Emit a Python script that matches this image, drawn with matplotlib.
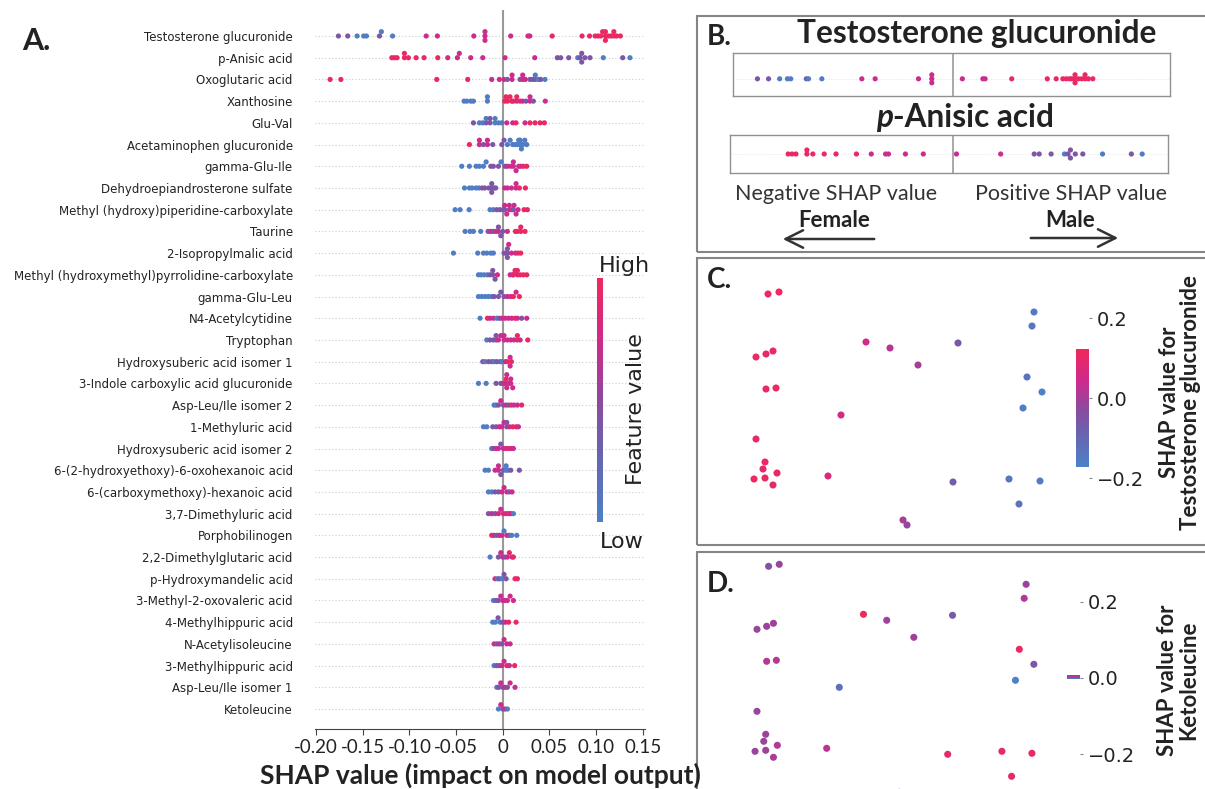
import matplotlib
matplotlib.use('Agg')
import matplotlib.pyplot as plt
import numpy as np
from matplotlib.colors import LinearSegmentedColormap
from matplotlib.patches import Rectangle, FancyArrowPatch

# ---------------- data ----------------
metabolites = [
    'Testosterone glucuronide', 'p-Anisic acid', 'Oxoglutaric acid', 'Xanthosine', 'Glu-Val',
    'Acetaminophen glucuronide', 'gamma-Glu-Ile', 'Dehydroepiandrosterone sulfate',
    'Methyl (hydroxy)piperidine-carboxylate', 'Taurine', '2-Isopropylmalic acid',
    'Methyl (hydroxymethyl)pyrrolidine-carboxylate', 'gamma-Glu-Leu', 'N4-Acetylcytidine',
    'Tryptophan', 'Hydroxysuberic acid isomer 1', '3-Indole carboxylic acid glucuronide',
    'Asp-Leu/Ile isomer 2', '1-Methyluric acid', 'Hydroxysuberic acid isomer 2',
    '6-(2-hydroxyethoxy)-6-oxohexanoic acid', '6-(carboxymethoxy)-hexanoic acid',
    '3,7-Dimethyluric acid', 'Porphobilinogen', '2,2-Dimethylglutaric acid',
    'p-Hydroxymandelic acid', '3-Methyl-2-oxovaleric acid', '4-Methylhippuric acid',
    'N-Acetylisoleucine', '3-Methylhippuric acid', 'Asp-Leu/Ile isomer 1', 'Ketoleucine',
]

# SHAP values per metabolite (one list per row, top to bottom)
shap_rows = [
    [-0.176, -0.166, -0.156, -0.149, -0.146, -0.132, -0.130, -0.118, -0.082, -0.070, -0.031, -0.019, -0.019,
     -0.019, 0.0085, 0.027, 0.029, 0.053, 0.085, 0.093, 0.099, 0.102, 0.105, 0.107, 0.110, 0.110, 0.110,
     0.113, 0.116, 0.119, 0.119, 0.122, 0.126],
    [-0.1188, -0.116, -0.1132, -0.1053, -0.1053, -0.101, -0.0928, -0.0843, -0.0696, -0.0589, -0.0486,
     -0.0465, -0.0343, -0.0214, 0.0025, 0.0343, 0.0585, 0.0621, 0.0707, 0.0803, 0.0828, 0.0846, 0.0846,
     0.0881, 0.0935, 0.1077, 0.1285, 0.1363],
    [-0.1849, -0.1734, -0.0707, -0.0375, -0.0118, -0.0036, 0.0014, 0.005, 0.010, 0.010, 0.0185, 0.0214,
     0.0214, 0.0242, 0.0292, 0.0321, 0.0349, 0.0349, 0.0381, 0.0407, 0.0453],
    [-0.0414, -0.0385, -0.0343, -0.0314, -0.0164, -0.0164, 0.0021, 0.0035, 0.005, 0.0078, 0.0095, 0.0114,
     0.015, 0.015, 0.0185, 0.0214, 0.0249, 0.0292, 0.0292, 0.0328, 0.0456],
    [-0.0314, -0.025, -0.0214, -0.0178, -0.0178, -0.0136, -0.0136, -0.0082, -0.0082, -0.0046, -0.0011,
     0.0043, 0.0107, 0.0142, 0.0239, 0.0292, 0.0346, 0.04, 0.0446],
    [-0.0357, -0.025, -0.025, -0.0207, -0.0164, -0.0164, -0.0107, -0.001, 0.0014, 0.005, 0.0079, 0.0107,
     0.0136, 0.0157, 0.0171, 0.0186, 0.0186, 0.02, 0.0214, 0.0236, 0.0257],
    [-0.0439, -0.0357, -0.0286, -0.025, -0.0207, -0.0178, -0.0128, -0.01, -0.0046, -0.0018, 0.0025, 0.005,
     0.0086, 0.0114, 0.0114, 0.0143, 0.0171, 0.0193, 0.0221, 0.0257],
    [-0.041, -0.0357, -0.0328, -0.0286, -0.0257, -0.0221, -0.0193, -0.015, -0.0118, -0.0118, -0.0118,
     -0.0093, -0.0075, 0.0021, 0.005, 0.0093, 0.0143, 0.0143, 0.0178, 0.0243],
    [-0.051, -0.0457, -0.036, -0.0136, -0.01, -0.0064, -0.0029, 0.0007, 0.0021, 0.0021, 0.0043, 0.0071,
     0.0071, 0.01, 0.0114, 0.0121, 0.0143, 0.0164, 0.0228, 0.0264],
    [-0.0403, -0.035, -0.0314, -0.0236, -0.0157, -0.0128, -0.01, -0.0071, -0.0046, -0.0046, -0.0021, 0.0,
     0.005, 0.0136, 0.0157, 0.0193, 0.0193, 0.0239],
    [-0.0528, -0.0268, -0.0207, -0.0171, -0.0128, -0.01, 0.0014, 0.0036, 0.005, 0.005, 0.005, 0.0064,
     0.0093, 0.0136, 0.0164, 0.0193],
    [-0.026, -0.0232, -0.02, -0.0164, -0.0136, -0.0107, -0.0107, -0.0082, -0.0057, 0.0079, 0.0107, 0.0114,
     0.0132, 0.0157, 0.0157, 0.0186, 0.0221, 0.0257],
    [-0.026, -0.0225, -0.0189, -0.0153, -0.0118, -0.0093, -0.0046, -0.0021, 0.0014, 0.005, 0.0086, 0.0114,
     0.0143, 0.0178],
    [-0.0243, -0.0164, -0.0136, -0.01, -0.0064, -0.0036, -0.001, 0.0025, 0.0061, 0.0096, 0.0132, 0.0157,
     0.0203, 0.0257],
    [-0.0171, -0.0136, -0.01, -0.0071, -0.0071, -0.0046, -0.0021, 0.0014, 0.0014, 0.005, 0.0086, 0.0121,
     0.0157, 0.0157, 0.0186, 0.0268],
    [-0.0214, -0.0189, -0.0153, -0.0118, -0.0093, -0.0064, -0.0029, -0.001, 0.0029, 0.005, 0.0079, 0.0079,
     0.0093],
    [-0.026, -0.0178, -0.0071, -0.0021, 0.0007, 0.0025, 0.0036, 0.0043, 0.0043, 0.0064, 0.0086, 0.0086,
     0.0107],
    [-0.0093, -0.0071, -0.0046, -0.0021, 0.0007, 0.0036, 0.0064, 0.0093, 0.0121, 0.0157, 0.0203],
    [-0.0207, -0.0171, -0.0107, -0.0071, -0.0036, -0.001, 0.0014, 0.0043, 0.0043, 0.0071, 0.0107, 0.0143,
     0.0168],
    [-0.0118, -0.01, -0.0071, -0.0046, -0.0021, 0.0007, 0.0036, 0.0064, 0.0093, 0.0114],
    [-0.0189, -0.0153, -0.0082, -0.0046, -0.0046, -0.0021, 0.0007, 0.0036, 0.0036, 0.0057, 0.0086, 0.0178],
    [-0.0153, -0.0118, -0.0082, -0.0046, -0.001, 0.0014, 0.0043, 0.0071, 0.01],
    [-0.0153, -0.0118, -0.0082, -0.0046, -0.0021, 0.0007, 0.0036, 0.0064, 0.0086, 0.0114],
    [-0.0118, -0.0093, -0.0064, -0.0036, -0.001, 0.0014, 0.0043, 0.0071, 0.0096, 0.015],
    [-0.0136, -0.0046, -0.0021, 0.0, 0.0025, 0.005, 0.0071, 0.01, 0.0114],
    [-0.0082, -0.0057, -0.0036, -0.001, 0.0014, 0.0036, 0.0132, 0.0157],
    [-0.01, -0.0071, -0.0046, -0.0021, 0.0, 0.0025, 0.005, 0.0079, 0.0114],
    [-0.0107, -0.0079, -0.005, -0.0029, 0.0, 0.0029, 0.0064, 0.0143],
    [-0.0093, -0.0064, -0.0036, -0.001, 0.0014, 0.0043, 0.0079],
    [-0.0093, -0.0064, -0.0036, -0.001, 0.0014, 0.0043, 0.0071, 0.0128],
    [-0.0064, -0.0043, -0.0021, 0.0, 0.0025, 0.005, 0.0079, 0.0132],
    [-0.0046, -0.0021, 0.0, 0.0025, 0.005],
]

# normalised feature values (0 = low, 1 = high), same order as shap_rows
feat_rows = [
    [.4, .4, .05, .05, .05, .4, .05, .05, .72, .72, .72, .72, .72, .72, .72, .72, .72, .95, .95, .95,
     .95, .95, .95, .95, .95, .95, .95, .95, .95, .95, .95, .95, .95],
    [.95, .95, .95, .95, .95, .95, .95, .95, .95, .72, .72, .72, .72, .72, .72, .72, .4, .4, .4, .05,
     .4, .4, .4, .4, .4, .05, .4, .05],
    [.95, .95, .95, .95, .72, .72, .72, .4, .72, .72, .4, .72, .72, .72, .4, .4, .4, .05, .05, .4, .05],
    [.05, .05, .05, .05, .05, .05, .95, .95, .95, .95, .95, .95, .72, .95, .95, .72, .4, .72, .72, .4, .72],
    [.4, .05, .05, .4, .05, .4, .4, .05, .05, .05, .05, .72, .72, .95, .72, .95, .95, .95, .95],
    [.95, .72, .72, .4, .72, .72, .4, .4, .4, .05, .05, .05, .05, .05, .05, .05, .05, .05, .05, .05, .05],
    [.05, .05, .05, .05, .05, .05, .4, .4, .4, .05, .4, .72, .72, .72, .72, .72, .72, .72, .95, .95],
    [.05, .05, .05, .05, .05, .4, .4, .4, .4, .4, .4, .4, .4, .72, .72, .72, .72, .72, .95, .95],
    [.05, .05, .05, .05, .05, .4, .4, .4, .4, .72, .72, .72, .72, .72, .4, .72, .72, .72, .95, .95],
    [.05, .05, .05, .05, .4, .72, .4, .72, .72, .4, .4, .4, .72, .95, .95, .95, .95, .95],
    [.05, .05, .05, .05, .05, .05, .4, .4, .4, .4, .4, .72, .72, .72, .95, .95],
    [.05, .05, .05, .05, .4, .4, .4, .4, .72, .72, .72, .95, .95, .72, .95, .95, .95, .95],
    [.05, .05, .05, .05, .05, .4, .4, .4, .4, .72, .72, .95, .72, .95],
    [.05, .95, .72, .72, .05, .4, .72, .72, .72, .72, .95, .72, .4, .72],
    [.05, .4, .4, .4, .4, .72, .72, .72, .72, .72, .72, .72, .95, .95, .72, .95],
    [.4, .05, .4, .4, .05, .4, .4, .05, .72, .95, .72, .72, .95],
    [.05, .05, .4, .4, .72, .72, .95, .72, .72, .72, .72, .72, .72],
    [.05, .05, .4, .72, .4, .72, .4, .95, .72, .72, .95],
    [.05, .05, .4, .4, .72, .72, .72, .4, .4, .72, .95, .95, .72],
    [.05, .4, .72, .72, .4, .72, .72, .95, .72, .72],
    [.05, .05, .72, .72, .72, .4, .4, .05, .05, .05, .4, .4],
    [.05, .05, .4, .4, .72, .72, .72, .4, .72],
    [.4, .72, .4, .72, .72, .95, .72, .95, .72, .05],
    [.95, .72, .4, .72, .72, .05, .72, .4, .05, .05],
    [.05, .4, .72, .72, .4, .72, .95, .72, .95],
    [.72, .05, .4, .05, .4, .4, .95, .95],
    [.05, .4, .4, .72, .72, .72, .72, .72, .72],
    [.05, .05, .4, .05, .4, .72, .95, .95],
    [.72, .4, .72, .4, .72, .72, .72],
    [.05, .4, .4, .72, .72, .95, .72, .95],
    [.05, .4, .72, .4, .72, .4, .72, .72],
    [.05, .72, .4, .72, .05],
]

# sample embedding (panels C and D) and per-sample SHAP values used for colour
emb_x = [1.8, 2.9, 28.4, 28.2, 11.6, 14.0, 20.8, 16.8, 0.6, 1.6, 2.3, 1.6, 2.6, 27.7, 29.2, 27.3,
         9.1, 0.6, 1.5, 1.3, 2.7, 0.4, 1.5, 2.3, 7.8, 20.3, 25.9, 29.0, 26.9, 15.3, 15.7]
emb_y = [23.6, 23.8, 21.8, 20.4, 18.8, 18.2, 18.7, 16.5, 17.3, 17.6, 17.9, 14.1, 14.2, 15.3, 13.8, 12.2,
         11.5, 9.1, 6.8, 6.1, 5.7, 5.1, 5.2, 4.5, 5.4, 4.8, 5.1, 4.9, 2.6, 1.0, 0.5]
shap_tg = [0.11, 0.1225, -0.15, -0.14, 0.05, 0.02, -0.06, 0.0, 0.11, 0.10, 0.11, 0.11, 0.11, -0.13,
           -0.1725, -0.16, 0.06, 0.10, 0.11, 0.105, 0.115, 0.12, 0.11, 0.10, 0.07, -0.07, -0.14, -0.15,
           -0.13, 0.0, -0.02]
shap_keto = [0.0, 0.0008, 0.0008, 0.0015, 0.0045, 0.0008, -0.0005, 0.001, 0.0008, 0.0008, 0.001, 0.0015,
             0.0015, 0.0042, -0.0003, -0.0035, -0.0022, 0.0008, 0.001, 0.0008, 0.0015, 0.0008, 0.001,
             0.0012, 0.0018, 0.004, 0.0038, 0.0042, 0.004, -0.0035, -0.0033]

xtick_vals = [-0.20, -0.15, -0.10, -0.05, 0, 0.05, 0.10, 0.15]
xtick_labels = ['-0.20', '-0.15', '-0.10', '-0.05', '0', '0.05', '0.10', '0.15']

# ---------------- helpers ----------------
W, H = 1205, 789
fig = plt.figure(figsize=(W / 100, H / 100), dpi=100)
fig.patch.set_facecolor('white')

def box(x0, y0, x1, y1):
    return [x0 / W, 1 - y1 / H, (x1 - x0) / W, (y1 - y0) / H]

def fx(px):
    return px / W

def fy(py):
    return 1 - py / H

cmap = LinearSegmentedColormap.from_list('shap', [(0, '#4b82c8'), (0.3, '#6c62ae'), (0.5, '#8e4a9e'),
                                                  (0.72, '#cc2c8e'), (1, '#f0285c')])

def swarm(vals, binw):
    # shap-style stacking of points that fall in the same bin
    vals = np.asarray(vals)
    bins = np.round(vals / binw)
    order = np.argsort(bins, kind='stable')
    offs = np.zeros(len(vals))
    layer, last = 0, None
    for i in order:
        if bins[i] != last:
            layer = 0
        offs[i] = np.ceil(layer / 2) * ((layer % 2) * 2 - 1)
        layer += 1
        last = bins[i]
    return offs

LATO = 'Lato'
DARK = '#222222'

# ---------------- panel A ----------------
axA = fig.add_axes(box(315, 10, 645, 729))
n = len(metabolites)
for i, (sv, fv) in enumerate(zip(shap_rows, feat_rows)):
    y = n - 1 - i
    axA.axhline(y, color='#cccccc', lw=0.8, dashes=(1, 2), zorder=0)
    offs = swarm(sv, 0.0032)
    axA.scatter(sv, y + 0.2 * offs, c=fv, cmap=cmap, vmin=0, vmax=1, s=14, lw=0, zorder=3)
axA.axvline(0, color='#999999', lw=1.5, zorder=1)
axA.set_xlim(-0.2011, 0.1524)
axA.set_ylim(-0.92, n - 1 + 26 / 21.7)
axA.set_yticks(range(n))
axA.set_yticklabels(metabolites[::-1], fontsize=8.5, color=DARK)
axA.tick_params(axis='y', length=0, pad=16)
for s in ['top', 'right', 'left']:
    axA.spines[s].set_visible(False)
axA.spines['bottom'].set_color('#444444')
axA.set_xticks(xtick_vals)
axA.set_xticklabels(xtick_labels, fontsize=13.5, family=LATO, color=DARK)
axA.tick_params(axis='x', length=4, color='#444444', pad=3)

fig.text(fx(480), fy(775), 'SHAP value (impact on model output)', ha='center', va='center',
         fontsize=19, fontweight='bold', family=LATO, color=DARK)
fig.text(fx(22), fy(50), 'A.', fontsize=22, fontweight='bold', family=LATO, va='baseline', color=DARK)

# feature value colour bar
caxA = fig.add_axes(box(597, 278, 603, 522))
caxA.imshow(np.linspace(0, 1, 256)[:, None], cmap=cmap, aspect='auto', origin='lower')
caxA.axis('off')
fig.text(fx(624), fy(272), 'High', ha='center', va='baseline', fontsize=16, color=DARK)
fig.text(fx(622), fy(548), 'Low', ha='center', va='baseline', fontsize=16, color=DARK)
fig.text(fx(636), fy(409), 'Feature value', ha='center', va='center', rotation=90, fontsize=16, color=DARK)

# ---------------- frames for B, C, D ----------------
for (x0, y0, x1, y1) in [(697, 16, 1215, 252), (697, 258, 1215, 545), (697, 552, 1215, 800)]:
    fig.add_artist(Rectangle((fx(x0), fy(y1)), (x1 - x0) / W, (y1 - y0) / H, transform=fig.transFigure,
                             fill=False, ec='#858585', lw=1.5, clip_on=False))

# ---------------- panel B ----------------
fig.text(fx(707), fy(45), 'B.', fontsize=20, fontweight='bold', family=LATO, va='baseline', color=DARK)
fig.text(fx(977), fy(43), 'Testosterone glucuronide', ha='center', va='baseline', fontsize=22.7,
         fontweight='bold', family=LATO, color=DARK)
tp = fig.text(fx(876), fy(127), 'p', ha='left', va='baseline', fontsize=22.7, fontweight='bold',
              style='italic', family=LATO, color=DARK)
overlay = fig.add_axes([0, 0, 1, 1], frameon=False)
overlay.axis('off')
overlay.annotate('-Anisic acid', xy=(1, 0), xycoords=tp, ha='left', va='bottom', fontsize=22.7,
                 fontweight='bold', family=LATO, color=DARK)

b_specs = [
    (shap_rows[0], feat_rows[0], (733, 53, 1170, 96), (-0.198, 0.1955), (-0.4, 0.6), 0.0027, 0.093),
    (shap_rows[1], feat_rows[1], (730, 135, 1168, 173), (-0.1607, 0.1549), (-0.5, 0.5), 0.0022, 0.105),
]
for sv, fv, rect, xl, yl, bw, lh in b_specs:
    ax = fig.add_axes(box(*rect))
    ax.axhline(0, color='#dddddd', lw=0.6, dashes=(1, 2), zorder=0)
    ax.axvline(0, color='#999999', lw=1.2, zorder=1)
    ax.scatter(sv, lh * swarm(sv, bw), c=fv, cmap=cmap, vmin=0, vmax=1, s=14, lw=0, zorder=3)
    ax.set_xlim(*xl)
    ax.set_ylim(*yl)
    ax.set_xticks([])
    ax.set_yticks([])
    for s in ax.spines.values():
        s.set_color('#909090')
        s.set_linewidth(1.0)

fig.text(fx(836), fy(200), 'Negative SHAP value', ha='center', va='baseline', fontsize=15.5,
         family=LATO, color='#333333')
fig.text(fx(1071), fy(200), 'Positive SHAP value', ha='center', va='baseline', fontsize=15.5,
         family=LATO, color='#333333')
fig.text(fx(834), fy(227), 'Female', ha='center', va='baseline', fontsize=16, fontweight='bold',
         family=LATO, color=DARK)
fig.text(fx(1070), fy(227), 'Male', ha='center', va='baseline', fontsize=16, fontweight='bold',
         family=LATO, color=DARK)
for p0, p1 in [((877, 239), (780, 239)), ((1028, 238), (1121, 238))]:
    fig.add_artist(FancyArrowPatch((fx(p0[0]), fy(p0[1])), (fx(p1[0]), fy(p1[1])),
                                   transform=fig.transFigure, arrowstyle='->,head_length=0.7,head_width=0.35',
                                   mutation_scale=18, lw=1.8, color='#333333'))

# ---------------- panels C and D ----------------
def embed_panel(rect, vals, cbar_rect, cbar_ylim, letter, letter_y, label, label_xy):
    ax = fig.add_axes(box(*rect))
    vmin, vmax = min(vals), max(vals)
    ax.scatter(emb_x, emb_y, c=vals, cmap=cmap, vmin=vmin, vmax=vmax, s=26, lw=0, clip_on=False)
    ax.set_xlim(-1, 30)
    ax.set_ylim(0, 24.5)
    ax.axis('off')
    cax = fig.add_axes(box(*cbar_rect))
    cax.imshow(np.linspace(vmin, vmax, 256)[:, None], cmap=cmap, aspect='auto', origin='lower',
               extent=[0, 1, vmin, vmax])
    cax.set_xlim(0, 1)
    cax.set_ylim(*cbar_ylim)
    for s in cax.spines.values():
        s.set_visible(False)
    cax.set_xticks([])
    cax.yaxis.tick_right()
    cax.set_yticks([-0.2, 0.0, 0.2])
    cax.set_yticklabels(['\u22120.2', '0.0', '0.2'])
    cax.tick_params(axis='y', length=2.5, width=0.8, color='#888888', labelsize=14, pad=3,
                    labelcolor=DARK)
    fig.text(fx(707), fy(letter_y), letter, fontsize=20, fontweight='bold', family=LATO, va='baseline',
             color=DARK)
    fig.text(fx(label_xy[0]), fy(label_xy[1]), label, rotation=90, ha='center', va='center',
             multialignment='center', fontsize=16, fontweight='bold', family=LATO, linespacing=1.05,
             color=DARK)

embed_panel((740, 285, 1050, 530), shap_tg, (1076, 300, 1089, 500), (-0.255, 0.245), 'C.', 288,
            'SHAP value for\nTestosterone glucuronide', (1180, 402))
embed_panel((741.5, 557.3, 1041.6, 802.3), shap_keto, (1067, 585, 1080, 770), (-0.242, 0.244), 'D.', 592,
            'SHAP value for\nKetoleucine', (1178, 680))

fig.savefig('out.png', dpi=100, facecolor='white')
